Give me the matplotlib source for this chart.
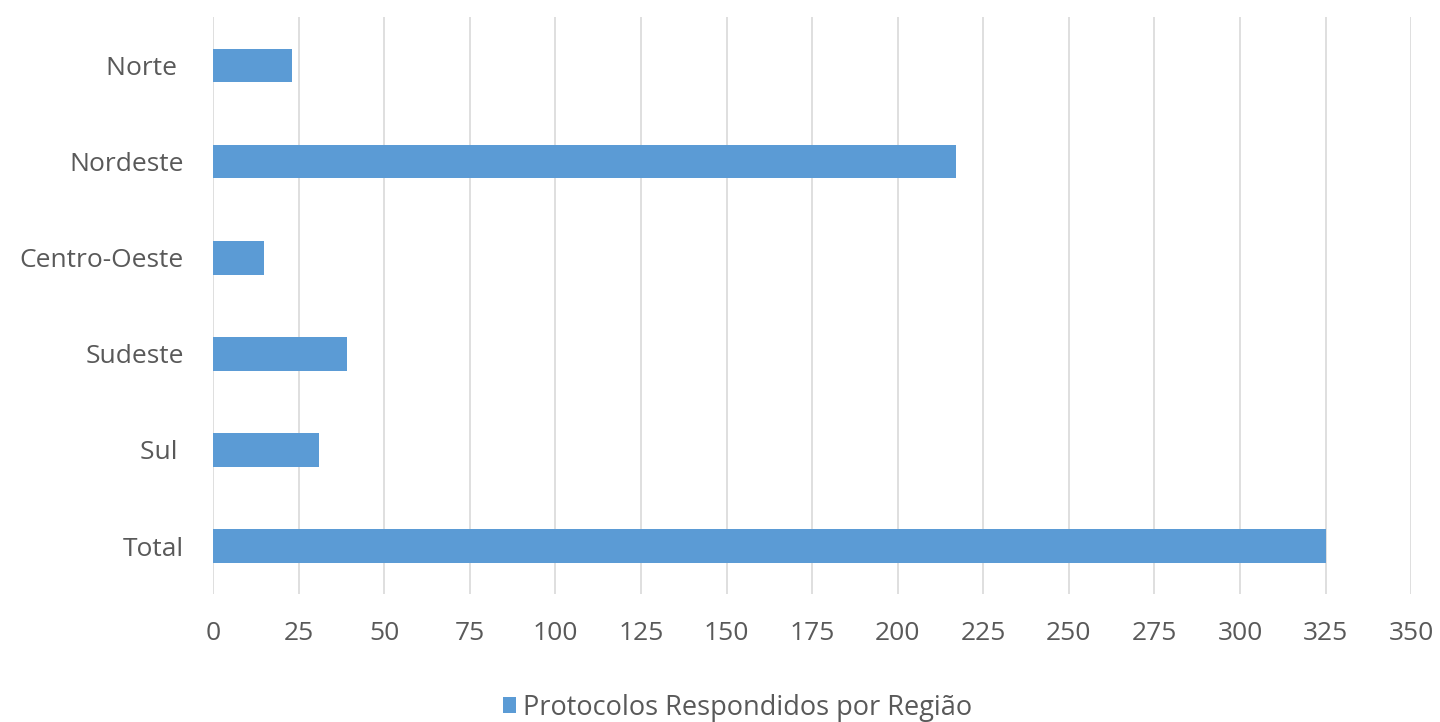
import matplotlib.pyplot as plt
import numpy as np

# Dados
regioes = ['Norte ', 'Nordeste', 'Centro-Oeste', 'Sudeste', 'Sul ', 'Total']
protocolos = [23, 217, 15, 39, 31, 325]
ticks_x = np.arange(0, 351, 25)

cor = '#5B9BD5'
cinza = '#595959'

plt.rcParams['font.family'] = ['Open Sans', 'DejaVu Sans']

fig = plt.figure(figsize=(14.4, 7.22), dpi=100)
ax = fig.add_axes([0.148, 0.177, 0.832, 0.799])

y = np.arange(len(regioes))
ax.barh(y, protocolos, height=0.35, color=cor, label='Protocolos Respondidos por Região', zorder=3)

ax.set_yticks(y)
ax.set_yticklabels(regioes)
ax.set_ylim(len(regioes) - 0.5, -0.5)
ax.set_xlim(0, 350)
ax.set_xticks(ticks_x)

ax.grid(axis='x', color='#d9d9d9', linewidth=1.2, zorder=0)
for s in ax.spines.values():
    s.set_visible(False)
ax.tick_params(length=0, labelsize=19, labelcolor=cinza)
ax.tick_params(axis='y', pad=21)
ax.tick_params(axis='x', pad=19)

fig.legend(loc='center', bbox_to_anchor=(0.512, 0.02), frameon=False,
           fontsize=19.5, labelcolor=cinza, handlelength=0.5, handleheight=0.5,
           handletextpad=0.25)

fig.savefig('out.png', dpi=100)
